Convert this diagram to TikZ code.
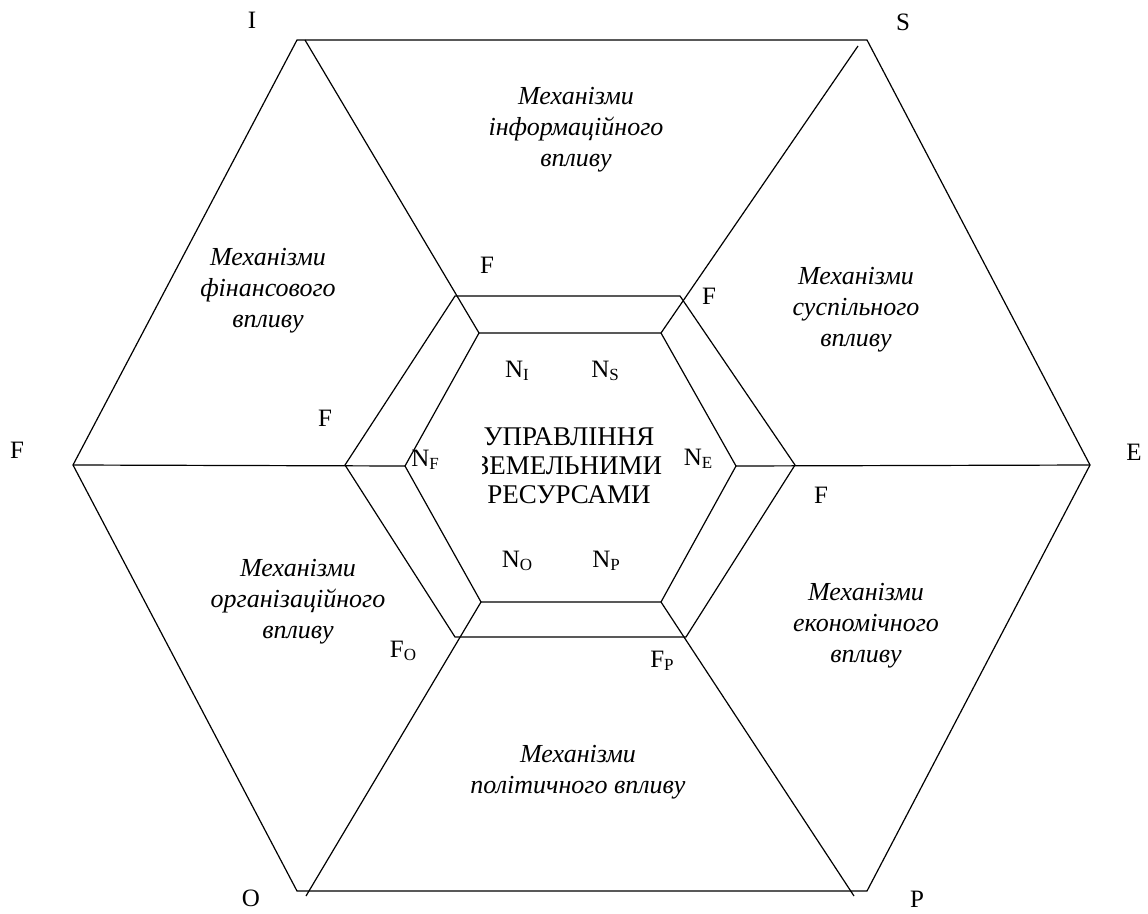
\documentclass[tikz,border=0pt]{standalone}
\usepackage{fontspec}
\setmainfont{Liberation Serif}
\newcommand{\lowsub}[1]{\raisebox{-3pt}{\fontsize{17}{17}\selectfont #1}}
\tikzset{
  edge/.style={line width=1.2pt, black, line join=miter},
  mech/.style={font=\fontsize{26}{31}\selectfont\itshape, align=center, inner sep=0pt},
  lbl/.style={font=\fontsize{25}{25}\selectfont, inner sep=0pt, anchor=center},
  core/.style={font=\fontsize{27}{29}\selectfont, align=center, inner sep=0pt}
}
\begin{document}
\begin{tikzpicture}[x=1pt, y=-1pt]
  \useasboundingbox (0,0) rectangle (1148,913);

  % outer hexagon
  \coordinate (oTL) at (297,40);
  \coordinate (oTR) at (867,40);
  \coordinate (oR)  at (1090,465);
  \coordinate (oBR) at (867,891);
  \coordinate (oBL) at (297,891);
  \coordinate (oL)  at (73,465);
  % middle hexagon
  \coordinate (mTL) at (455,296);
  \coordinate (mTR) at (680,296);
  \coordinate (mR)  at (795,465);
  \coordinate (mBR) at (686,637);
  \coordinate (mBL) at (455,637);
  \coordinate (mL)  at (345,465);
  % inner hexagon
  \coordinate (iTL) at (479,333);
  \coordinate (iTR) at (661,333);
  \coordinate (iR)  at (736,466);
  \coordinate (iBR) at (661,602);
  \coordinate (iBL) at (481,602);
  \coordinate (iL)  at (405,466);
  % free ends of the spokes
  \coordinate (sI) at (305,40);
  \coordinate (sS) at (858,46);
  \coordinate (sO) at (306,896);
  \coordinate (sP) at (854,896);

  \draw[edge] (oTL) -- (oTR) -- (oR) -- (oBR) -- (oBL) -- (oL) -- cycle;
  \draw[edge] (mTL) -- (mTR) -- (mR) -- (mBR) -- (mBL) -- (mL) -- cycle;
  \draw[edge] (iTL) -- (iTR) -- (iR) -- (iBR) -- (iBL) -- (iL) -- cycle;

  % spokes
  \draw[edge] (sI) -- (iTL);
  \draw[edge] (sS) -- (iTR);
  \draw[edge] (oR) -- (iR);
  \draw[edge] (oL) -- (iL);
  \draw[edge] (sO) -- (iBL);
  \draw[edge] (sP) -- (iBR);

  % vertex letters
  \node[lbl] (vI) at (252,20) {I};
  \node[lbl] (vS) at (903,22) {S};
  \node[lbl] (vF) at (17,450) {F};
  \node[lbl] (vE) at (1134,452) {E};
  \node[lbl] (vO) at (251,898) {O};
  \node[lbl] (vP) at (917,899) {P};

  % sectors
  \node[mech] (mInfo) at (576,130) {Механізми\\інформаційного\\впливу};
  \node[mech] (mFin)  at (268,291) {Механізми\\фінансового\\впливу};
  \node[mech] (mSoc)  at (856,310) {Механізми\\суспільного\\впливу};
  \node[mech] (mOrg)  at (298,602) {Механізми\\організаційного\\впливу};
  \node[mech] (mEco)  at (866,626) {Механізми\\економічного\\впливу};
  \node[mech] (mPol)  at (578,772) {Механізми\\політичного впливу};

  % ring labels
  \node[lbl] (fI) at (487,265) {F};
  \node[lbl] (fS) at (709,296) {F};
  \node[lbl] (fF) at (325,418) {F};
  \node[lbl] (fE) at (821,495) {F};
  \node[lbl] (fO) at (403,651) {F\lowsub{O}};
  \node[lbl] (fP) at (662,661) {F\lowsub{P}};

  % inner labels
  \node[lbl] (nI) at (517,371) {N\lowsub{I}};
  \node[lbl] (nS) at (605,371) {N\lowsub{S}};
  \node[lbl] (nF) at (425,460) {N\lowsub{F}};
  \node[lbl] (nE) at (698,459) {N\lowsub{E}};
  \node[lbl] (nO) at (517,561) {N\lowsub{O}};
  \node[lbl] (nP) at (606,561) {N\lowsub{P}};

  % centre title, cut to its box
  \begin{scope}
    \clip (482,415) rectangle (661,515);
    \node[core] (title) at (569,466) {УПРАВЛІННЯ\\ЗЕМЕЛЬНИМИ\\РЕСУРСАМИ};
  \end{scope}
\end{tikzpicture}
\end{document}
